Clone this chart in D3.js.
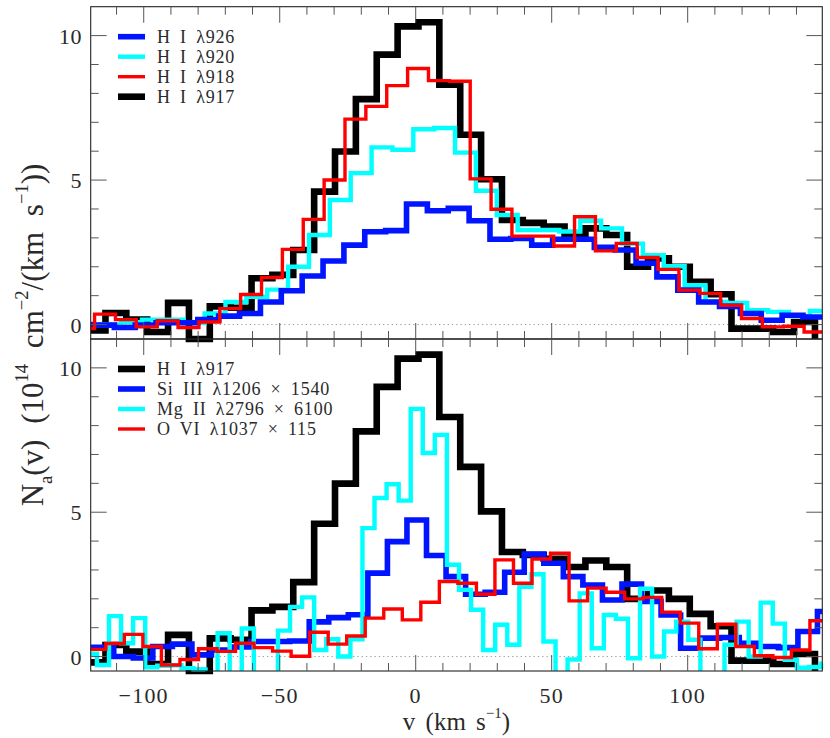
<!DOCTYPE html>
<html><head><meta charset="utf-8">
<script src="https://cdn.jsdelivr.net/npm/d3@7"></script>
<style>
body{margin:0;background:#fff}
svg{display:block}
text{font-family:"Liberation Serif","Times New Roman",serif;fill:#2a2a2a}
</style>
</head><body>
<svg id="chart" width="830" height="738"></svg>
<script>
// ---------- DATA (velocity bin edges in km/s, N_a in 1e14 cm^-2/(km/s)) ----------
// Top panel
const hi917Edges = [-121.75,-114.07,-106.40,-98.73,-91.05,-83.38,-75.71,-68.04,-60.36,-52.69,-45.02,-37.34,
  -29.67,-22.00,-14.33,-6.65,1.02,8.69,16.37,24.04,31.71,39.38,47.06,54.73,62.40,
  70.08,77.75,85.42,93.09,100.77,108.44,116.11,123.79,131.46,139.13,146.80,154.48];
const hi917Values = [-0.20,0.40,0.17,-0.26,0.75,-0.50,0.63,0.58,1.60,1.72,2.58,4.60,
  5.99,7.80,9.34,10.32,10.46,8.30,6.57,5.03,3.62,3.52,3.39,3.10,
  3.33,3.10,2.00,2.29,2.00,1.48,1.05,-0.14,-0.14,-0.26,0.09,-0.55];

const hi918Edges = [-125.75,-118.08,-110.40,-102.73,-95.06,-87.38,-79.71,-72.04,-64.37,-56.69,-49.02,-41.35,-33.67,
  -26.00,-18.33,-10.65,-2.98,4.69,12.37,20.04,27.71,35.38,43.06,50.73,58.40,66.08,73.75,81.42,89.09,96.77,
  104.44,112.11,119.79,127.46,135.13,142.81,150.48];
const hi918Values = [-0.14,0.36,0.17,-0.08,0.13,-0.10,0.09,0.55,1.04,1.63,2.60,3.64,5.00,
  7.11,7.55,8.27,8.86,8.44,8.42,5.04,3.99,3.06,3.06,2.72,
  3.73,2.55,2.81,2.32,1.91,1.19,1.08,0.67,0.21,-0.08,-0.06,-0.26];

const hi920Edges = [-123.65,-115.97,-108.30,-100.63,-92.95,-85.28,-77.61,-69.94,-62.26,-54.59,-46.92,-39.24,
  -31.57,-23.90,-16.22,-8.55,-0.88,6.79,14.47,22.14,29.81,37.49,45.16,52.83,60.51,68.18,75.85,83.52,
  91.20,98.87,106.54,114.22,121.89,129.56,137.23,144.91,152.58];
const hi920Values = [-0.03,0.00,0.08,0.17,0.17,0.06,0.38,0.78,0.96,1.21,2.00,3.10,
  4.31,5.24,6.13,6.05,6.76,6.80,5.95,4.63,3.79,3.27,3.27,3.22,
  3.59,3.33,2.80,2.40,2.02,1.36,0.78,0.75,0.50,0.44,0.29,0.47];

const hi926Edges = [-126.15,-118.48,-110.80,-103.13,-95.46,-87.78,-80.11,-72.44,-64.77,-57.09,-49.42,-41.75,-34.07,
  -26.40,-18.73,-11.05,-3.38,4.29,11.97,19.64,27.31,34.98,42.66,50.33,58.00,65.68,73.35,81.02,88.69,96.37,
  104.04,111.71,119.39,127.06,134.73,142.41,150.08];
const hi926Values = [0.00,-0.02,-0.10,-0.02,0.06,0.06,0.17,0.29,0.38,0.78,1.17,1.68,2.20,
  2.75,3.21,3.25,4.17,3.94,4.02,3.59,2.95,2.98,2.75,2.95,2.95,
  2.67,2.58,2.12,1.65,1.19,0.78,0.63,0.38,0.15,0.32,0.26];

// Bottom panel
const si3Edges = [-125.39,-118.22,-111.03,-103.84,-96.65,-89.47,-82.28,-75.09,-67.90,-60.72,-53.53,-46.34,-39.15,-31.97,
  -24.78,-17.59,-10.40,-3.22,3.97,11.16,18.35,25.53,32.72,39.91,47.10,54.28,61.47,68.66,75.85,83.03,
  90.22,97.41,104.60,111.78,118.97,126.16,133.35,140.53,147.72,154.91];
const si3Values = [0.32,0.32,0.00,-0.05,0.35,0.43,0.06,0.23,0.33,0.52,0.52,0.54,1.20,1.35,
  1.45,2.89,3.98,4.73,3.50,2.77,2.16,2.23,2.92,3.55,3.23,2.77,
  2.48,1.96,2.51,1.91,1.44,0.29,0.64,0.66,0.46,0.35,0.31,0.87,1.56];

const o6Edges = [-120.75,-113.94,-107.13,-100.31,-93.50,-86.69,-79.87,-73.06,-66.25,-59.44,-52.62,-45.81,-39.00,-32.18,
  -25.37,-18.56,-11.74,-4.93,1.88,8.70,15.51,22.32,29.13,35.95,42.76,49.57,56.39,63.20,70.01,76.83,
  83.64,90.45,97.26,104.08,110.89,117.70,124.52,131.33,138.14,144.95,151.77];
const o6Values = [0.25,0.45,0.77,0.35,-0.29,-0.10,0.27,0.18,0.46,0.31,0.19,0.01,0.84,0.43,
  0.71,1.33,1.65,1.27,1.88,2.60,2.54,2.16,3.35,2.54,3.38,3.58,
  1.93,2.37,2.23,2.00,2.05,1.54,1.16,0.27,1.12,0.35,0.03,-0.03,0.23,1.24];

const mg2Edges = [-121.65,-117.21,-112.77,-108.34,-103.90,-99.46,-95.02,-90.59,-86.15,-81.71,-77.27,-72.84,-68.40,
  -63.96,-59.52,-55.09,-50.65,-46.21,-41.77,-37.33,-32.90,
  -28.46,-24.02,-19.58,-15.15,-10.71,-6.27,-1.83,2.60,7.04,11.48,15.92,20.35,24.79,29.23,33.67,38.10,
  42.54,46.98,51.42,55.85,60.29,64.73,69.17,73.60,78.04,82.48,86.92,91.35,95.79,100.23,104.67,109.10,
  113.54,117.98,122.42,126.85,131.29,135.73,140.17,144.60,149.04,153.48];
const mg2Values = [0.10,-0.29,1.40,0.46,1.33,-0.37,-0.32,-0.30,-0.40,-0.45,-0.60,0.81,-0.70,0.97,-0.70,-0.70,
  0.90,1.72,2.05,0.23,0.60,
  0.00,0.60,4.45,5.49,5.97,5.40,8.58,7.05,7.68,3.18,2.31,1.62,0.23,1.10,0.41,2.42,2.85,0.52,-0.70,-0.10,
  2.19,0.29,1.44,1.31,-0.06,2.35,0.00,0.87,1.21,0.58,-0.70,-0.70,0.41,1.21,0.00,1.87,1.14,-0.11,-0.39,-0.36,-0.25];

const yTickLabels = [0, 5, 10];
const xTickLabels = [-100, -50, 0, 50, 100];
const topLegend = ["H I λ926", "H I λ920", "H I λ918", "H I λ917"];
const bottomLegend = ["H I λ917", "Si III λ1206 × 1540", "Mg II λ2796 × 6100", "O VI λ1037 × 115"];

// ---------- LAYOUT ----------
const svg = d3.select("#chart");
const X0 = 90.7, X1 = 822.3;
const x = d3.scaleLinear().domain([-119.5, 149.5]).range([X0, X1]);
const panels = [{y0: 6.7, y1: 339}, {y0: 339, y1: 671}];
panels.forEach(p => { p.y = d3.scaleLinear().domain([-0.5, 11]).range([p.y1, p.y0]); });

const styles = {
  black: {color: "#000000", w: 6.6},
  blue:  {color: "#0014ff", w: 5.6},
  cyan:  {color: "#00ffff", w: 4.4},
  red:   {color: "#ff0000", w: 3.4}
};

const topSeries = [
  {edges: hi917Edges, vals: hi917Values, s: styles.black},
  {edges: hi920Edges, vals: hi920Values, s: styles.cyan},
  {edges: hi926Edges, vals: hi926Values, s: styles.blue},
  {edges: hi918Edges, vals: hi918Values, s: styles.red}
];
const bottomSeries = [
  {edges: hi917Edges, vals: hi917Values, s: styles.black},
  {edges: si3Edges, vals: si3Values, s: styles.blue},
  {edges: mg2Edges, vals: mg2Values, s: styles.cyan},
  {edges: o6Edges, vals: o6Values, s: styles.red}
];
const topLegendStyles = [styles.blue, styles.cyan, styles.red, styles.black];
const bottomLegendStyles = [styles.black, styles.blue, styles.cyan, styles.red];

function stepCoords(edges, vals, y) {
  const pts = [];
  vals.forEach((v, i) => {
    pts.push([x(edges[i]), y(v)]);
    pts.push([x(edges[i + 1]), y(v)]);
  });
  return pts;
}

function drawPanel(p, series, legendLabels, legendStyles, legendY0, showX) {
  const g = svg.append("g");
  g.append("line").attr("x1", X0).attr("x2", X1).attr("y1", p.y(0)).attr("y2", p.y(0))
    .attr("stroke", "#9a9a9a").attr("stroke-width", 1).attr("stroke-dasharray", "1.3,3");
  const path = d3.geoPath(d3.geoIdentity().clipExtent([[X0, p.y0], [X1, p.y1]]));
  series.forEach(sr => {
    g.append("path")
      .attr("d", path({type: "LineString", coordinates: stepCoords(sr.edges, sr.vals, p.y)}))
      .attr("fill", "none").attr("stroke", sr.s.color).attr("stroke-width", sr.s.w)
      .attr("stroke-linejoin", "miter").attr("stroke-miterlimit", 4).attr("stroke-linecap", "butt");
  });
  g.append("rect").attr("x", X0).attr("y", p.y0).attr("width", X1 - X0).attr("height", p.y1 - p.y0)
    .attr("fill", "none").attr("stroke", "#222").attr("stroke-width", 1.1);
  const tk = g.append("g").attr("stroke", "#555").attr("stroke-width", 1);
  d3.range(-110, 150, 10).forEach(v => {
    const L = v % 50 === 0 ? 16 : 8;
    tk.append("line").attr("x1", x(v)).attr("x2", x(v)).attr("y1", p.y1).attr("y2", p.y1 - L);
    tk.append("line").attr("x1", x(v)).attr("x2", x(v)).attr("y1", p.y0).attr("y2", p.y0 + L);
  });
  d3.range(0, 11, 1).forEach(t => {
    const L = t % 5 === 0 ? 16 : 8;
    tk.append("line").attr("x1", X0).attr("x2", X0 + L).attr("y1", p.y(t)).attr("y2", p.y(t));
    tk.append("line").attr("x1", X1).attr("x2", X1 - L).attr("y1", p.y(t)).attr("y2", p.y(t));
  });
  yTickLabels.forEach(t => {
    g.append("text").attr("x", 82).attr("y", p.y(t) + 8).attr("text-anchor", "end")
      .attr("font-size", 22).attr("letter-spacing", 0.5).text(t);
  });
  if (showX) {
    xTickLabels.forEach(v => {
      g.append("text").attr("x", x(v)).attr("y", 703).attr("text-anchor", "middle")
        .attr("font-size", 22).attr("letter-spacing", 1.2)
        .text(v < 0 ? "\u2212" + Math.abs(v) : String(v));
    });
  }
  legendLabels.forEach((lab, i) => {
    const yy = legendY0 + i * 20;
    g.append("line").attr("x1", 118).attr("x2", 145).attr("y1", yy).attr("y2", yy)
      .attr("stroke", legendStyles[i].color).attr("stroke-width", legendStyles[i].w);
    g.append("text").attr("x", 157).attr("y", yy + 6).attr("font-size", 18)
      .attr("letter-spacing", 0.8).attr("word-spacing", 4).text(lab);
  });
}

drawPanel(panels[0], topSeries, topLegend, topLegendStyles, 36.7, false);
drawPanel(panels[1], bottomSeries, bottomLegend, bottomLegendStyles, 369, true);

function richSeq(sel, segs, fs) {
  let shift = 0;
  segs.forEach(([t, m]) => {
    const ts = sel.append("tspan").text(t);
    let target = 0, size = fs;
    if (m === "sup") { target = -0.5 * fs; size = fs * 0.6; }
    if (m === "sub") { target = 0.28 * fs; size = fs * 0.6; }
    ts.attr("font-size", size).attr("dy", target - shift);
    shift = target;
  });
}

const yl = svg.append("text").attr("transform", "translate(43,335) rotate(-90)")
  .attr("text-anchor", "middle").attr("font-size", 31).attr("word-spacing", 8);
richSeq(yl, [["N", null], ["a", "sub"], ["(v)  (10", null], ["14", "sup"], [" cm", null], ["\u22122", "sup"],
  ["/(km  s", null], ["\u22121", "sup"], ["))", null]], 31);

const xl = svg.append("text").attr("x", (X0 + X1) / 2).attr("y", 730).attr("text-anchor", "middle")
  .attr("font-size", 25).attr("word-spacing", 4);
richSeq(xl, [["v  (km  s", null], ["\u22121", "sup"], [")", null]], 25);
</script>
</body></html>
